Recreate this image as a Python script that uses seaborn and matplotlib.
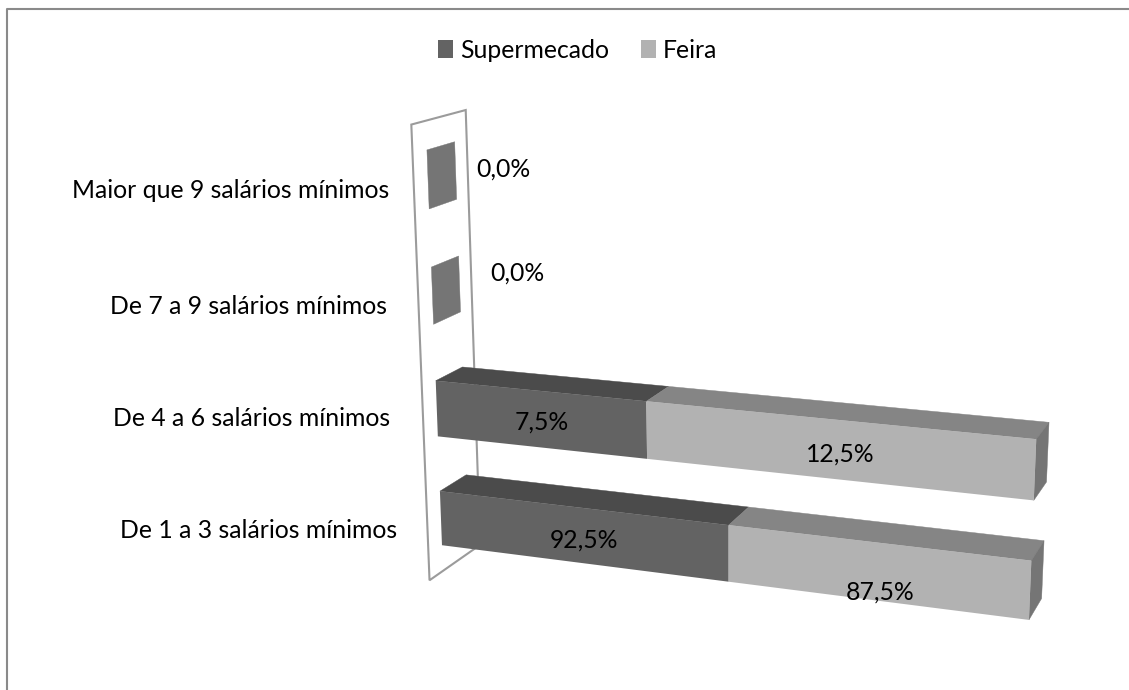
import numpy as np
import matplotlib
matplotlib.use("Agg")
import matplotlib.pyplot as plt
import matplotlib.transforms as mtransforms
from matplotlib.lines import Line2D
from matplotlib.patches import Polygon
import seaborn as sns

# Income brackets, listed from the top row of the chart to the bottom row
categories = [
    "Maior que 9 salários mínimos",
    "De 7 a 9 salários mínimos",
    "De 4 a 6 salários mínimos",
    "De 1 a 3 salários mínimos",
]
supermercado = [0.0, 0.0, 7.5, 92.5]
feira = [0.0, 0.0, 12.5, 87.5]
series_names = ["Supermecado", "Feira"]

# Colours of each series: front, top
FRONT = ["#636363", "#b2b2b2"]
TOP = ["#4b4b4b", "#858585"]
SIDE = "#757575"
GRID = "#9b9b9b"
FRAME = "#8a8a8a"

FONT = "Lato"
FONT_SIZE = 17.85

# Homogeneous camera matrix: (share, height, depth, 1) -> image pixels
CAMERA = np.array([
    [487.195741, -5.201385, 37.849892, 441.982126],
    [14.600235, -57.542298, -4.167926, 545.214999],
    [-0.096957, -0.007145, 0.025353, 1.0],
])
BAR_WIDTH = 0.5
W, H = 1129, 690


def project(share, height, depth):
    pts = np.column_stack([share, height, depth, np.ones_like(share)])
    hom = pts @ CAMERA.T
    return hom[:, :2] / hom[:, 2:]


def to_height(pos):
    # Category axis position -> height in the box, rows stacked every 2 units
    n = len(categories) - 1
    return 2 * (n - np.asarray(pos, float)) + 0.5


class FrontFace(mtransforms.Transform):
    """Sends (share, category position) onto the front plane of the box, in image pixels."""
    input_dims = output_dims = 2
    is_separable = False
    has_inverse = False

    def transform_non_affine(self, values):
        values = np.asarray(values, float)
        return project(values[:, 0], to_height(values[:, 1]), np.zeros(len(values)))


pixels = mtransforms.Affine2D().scale(1, -1).translate(0, H)

sns.set_theme(style="white")
plt.rcParams["font.family"] = [FONT, "DejaVu Sans"]

fig = plt.figure(figsize=(W / 100, H / 100), dpi=100, facecolor="white")
ax = fig.add_axes([0, 0, 1, 1])

# Both series are normalised to the row total, as in a 100 % stacked bar
sup = np.array(supermercado)
fei = np.array(feira)
total = sup + fei
safe = np.where(total > 0, total, 1)
share_sup = sup / safe
share_fei = fei / safe

sns.barplot(x=share_sup, y=categories, color=FRONT[0], saturation=1, width=BAR_WIDTH,
            orient="h", label=series_names[0], ax=ax, zorder=3, linewidth=0)
sns.barplot(x=share_fei, y=categories, left=share_sup, color=FRONT[1], saturation=1,
            width=BAR_WIDTH, orient="h", label=series_names[1], ax=ax, zorder=3, linewidth=0)

face = FrontFace()
for bar in ax.patches:
    bar.set_transform(face + pixels)
    bar.set_clip_on(False)


def add_face(corners, color, z):
    ax.add_patch(Polygon(corners, closed=True, facecolor=color, edgecolor=color, linewidth=0.3,
                         transform=pixels, clip_on=False, zorder=z))


# Side wall of the box
wall_h = np.array([-0.48, 7.49, 7.49, -0.48])
wall_d = np.array([-0.5, -0.5, 1.45, 1.45])
ax.add_patch(Polygon(project(np.zeros(4), wall_h, wall_d), closed=True, facecolor="none",
                     edgecolor=GRID, linewidth=1.5, transform=pixels, clip_on=False, zorder=1))

# Top and end faces of every stacked bar
for i in range(len(categories)):
    lo = to_height(i + BAR_WIDTH / 2)
    hi = to_height(i - BAR_WIDTH / 2)
    start = 0.0
    for share, top_color in zip((share_sup[i], share_fei[i]), TOP):
        if share > 0:
            xs = np.array([start, start + share, start + share, start])
            add_face(project(xs, np.full(4, hi), np.array([0, 0, 1, 1.0])), top_color, 2)
        start += share
    xs = np.full(4, start)
    add_face(project(xs, np.array([hi, lo, lo, hi]), np.array([0, 0, 1, 1.0])), SIDE, 2)

# Data labels, placed from the centre of the front face of their segment
nudge_bars = {(2, 0): (2, 3), (2, 1): (6, 5), (3, 0): (3, 5), (3, 1): (5, 21)}
zero_label_xy = {0: (503, 169), 1: (517, 273)}


def fmt(v):
    return f"{v:.1f}%".replace(".", ",")


for i in range(len(categories)):
    if total[i] == 0:
        ax.text(*zero_label_xy[i], fmt(0.0), transform=pixels, ha="center", va="center",
                fontsize=FONT_SIZE, color="black", zorder=5)
        continue
    start = 0.0
    for s, (share, raw) in enumerate(((share_sup[i], sup[i]), (share_fei[i], fei[i]))):
        mid = project(np.array([start + share / 2]), np.array([to_height(i)]), np.zeros(1))[0]
        dx, dy = nudge_bars[(i, s)]
        ax.text(mid[0] + dx, mid[1] + dy, fmt(raw), transform=pixels, ha="center", va="center",
                fontsize=FONT_SIZE, color="black", zorder=5)
        start += share

# Row labels
row_label_xy = [(389, 190), (387, 306), (390, 419), (397, 531)]
for name, (x, y) in zip(categories, row_label_xy):
    ax.text(x, y, name, transform=pixels, ha="right", va="center",
            fontsize=FONT_SIZE, color="black")

# Outer chart border runs off the right and bottom of the canvas
ax.add_line(Line2D([7, 7, W], [H, 9, 9], color=FRAME, linewidth=1.5, transform=pixels, clip_on=False))

handles, labels = ax.get_legend_handles_labels()
ax.legend(handles[:2], labels[:2], ncol=2, frameon=False, loc="center",
          bbox_to_anchor=(578, 50), bbox_transform=pixels, prop={"family": FONT, "size": FONT_SIZE},
          handlelength=0.6, handleheight=0.78, handletextpad=0.28, columnspacing=1.3,
          borderpad=0, labelcolor="black")

ax.set_xlim(0, 1)
ax.axis("off")
fig.savefig("out.png", dpi=100, facecolor="white")
